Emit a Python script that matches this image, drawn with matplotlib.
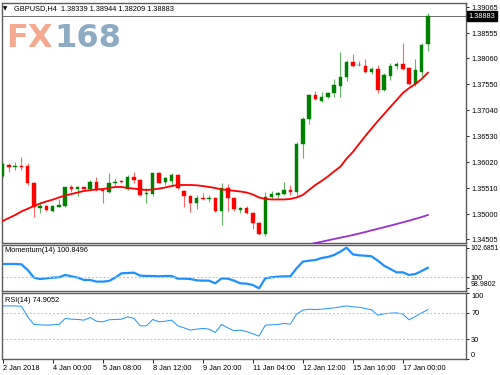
import matplotlib.pyplot as plt
import matplotlib.transforms as mtransforms
import numpy as np

plt.rcParams['font.family'] = ['Liberation Sans', 'DejaVu Sans']
plt.rcParams['font.size'] = 5.3

# GBPUSD H4, 2 Jan 2018 16:00 .. 17 Jan 2018 16:00
symbol = 'GBPUSD'
timeframe = 'H4'

opens = [1.35748, 1.35963, 1.35930, 1.35950, 1.35944, 1.35616, 1.35125, 1.35153, 1.35066, 1.35145,
         1.35159, 1.35526, 1.35492, 1.35526, 1.35486, 1.35636, 1.35473, 1.35439, 1.35604, 1.35649,
         1.35486, 1.35734, 1.35669, 1.35394, 1.35394, 1.35801, 1.35624, 1.35655, 1.35767, 1.35459,
         1.35361, 1.35223, 1.35322, 1.35290, 1.35322, 1.35061, 1.35506, 1.35322, 1.35080, 1.35113,
         1.35027, 1.34831, 1.34609, 1.35341, 1.35375, 1.35388, 1.35473, 1.35439, 1.36376, 1.36866,
         1.37338, 1.37226, 1.37292, 1.37371, 1.37520, 1.37697, 1.37991, 1.37926, 1.37913, 1.37795,
         1.37857, 1.37436, 1.37716, 1.37913, 1.37940, 1.37862, 1.37554, 1.37789, 1.38339]
highs = [1.36003, 1.35997, 1.36028, 1.36115, 1.35997, 1.35636, 1.35243, 1.35178, 1.35178, 1.35296,
         1.35538, 1.35571, 1.35551, 1.35538, 1.35669, 1.35734, 1.35486, 1.35801, 1.35702, 1.35669,
         1.35767, 1.35832, 1.35683, 1.35506, 1.35812, 1.35820, 1.35734, 1.35812, 1.35781, 1.35473,
         1.35375, 1.35375, 1.35420, 1.35375, 1.35341, 1.35604, 1.35591, 1.35341, 1.35145, 1.35159,
         1.35047, 1.34850, 1.35439, 1.35459, 1.35439, 1.35636, 1.35571, 1.36421, 1.36912, 1.37357,
         1.37422, 1.37391, 1.37402, 1.37652, 1.38176, 1.38025, 1.38137, 1.38005, 1.38038, 1.37893,
         1.37926, 1.37764, 1.37960, 1.37979, 1.38352, 1.37887, 1.38044, 1.38364, 1.38944]
lows = [1.35728, 1.35832, 1.35865, 1.35865, 1.35571, 1.34937, 1.35015, 1.35061, 1.35035, 1.35133,
        1.35145, 1.35439, 1.35355, 1.35486, 1.35473, 1.35453, 1.35212, 1.35408, 1.35571, 1.35616,
        1.35473, 1.35616, 1.35355, 1.35212, 1.35355, 1.35604, 1.35571, 1.35571, 1.35486, 1.35145,
        1.35047, 1.35094, 1.35276, 1.35243, 1.35047, 1.34786, 1.35066, 1.35061, 1.35027, 1.34996,
        1.34701, 1.34589, 1.34570, 1.35310, 1.35310, 1.35375, 1.35375, 1.35355, 1.36095, 1.36762,
        1.37239, 1.37206, 1.37273, 1.37304, 1.37292, 1.37618, 1.37893, 1.37907, 1.37775, 1.37744,
        1.37383, 1.37422, 1.37632, 1.37857, 1.37828, 1.37534, 1.37520, 1.37697, 1.38209]
closes = [1.35977, 1.35930, 1.35950, 1.35930, 1.35604, 1.35133, 1.35159, 1.35080, 1.35159, 1.35184,
          1.35526, 1.35492, 1.35526, 1.35492, 1.35636, 1.35473, 1.35447, 1.35604, 1.35636, 1.35624,
          1.35734, 1.35669, 1.35375, 1.35420, 1.35801, 1.35616, 1.35702, 1.35767, 1.35506, 1.35355,
          1.35223, 1.35322, 1.35290, 1.35310, 1.35061, 1.35506, 1.35322, 1.35094, 1.35113, 1.35015,
          1.34831, 1.34609, 1.35341, 1.35394, 1.35408, 1.35473, 1.35439, 1.36376, 1.36866, 1.37338,
          1.37259, 1.37292, 1.37371, 1.37534, 1.37697, 1.37991, 1.37907, 1.37926, 1.37795, 1.37857,
          1.37436, 1.37730, 1.37913, 1.37946, 1.37842, 1.37554, 1.37828, 1.38319, 1.38883]

# red moving average
ma_fast = [1.34864, 1.34923, 1.34982, 1.35051, 1.35105, 1.35159, 1.35208, 1.35248, 1.35283, 1.35326,
           1.35366, 1.35394, 1.35424, 1.35453, 1.35469, 1.35483, 1.35492, 1.35512, 1.35532, 1.35532,
           1.35512, 1.35500, 1.35483, 1.35473, 1.35483, 1.35500, 1.35522, 1.35551, 1.35571, 1.35571,
           1.35571, 1.35565, 1.35551, 1.35532, 1.35512, 1.35483, 1.35473, 1.35457, 1.35443, 1.35424,
           1.35384, 1.35326, 1.35296, 1.35287, 1.35287, 1.35287, 1.35296, 1.35326, 1.35375, 1.35473,
           1.35571, 1.35649, 1.35738, 1.35836, 1.35930, 1.36089, 1.36219, 1.36376, 1.36533, 1.36680,
           1.36827, 1.36965, 1.37102, 1.37239, 1.37377, 1.37474, 1.37554, 1.37652, 1.37775]
# purple moving average, only its last bars are inside the price range
ma_slow_start = 49
ma_slow = [1.34403, 1.34432, 1.34457, 1.34483, 1.34511, 1.34536, 1.34562, 1.34589, 1.34618, 1.34647,
           1.34681, 1.34710, 1.34742, 1.34773, 1.34805, 1.34838, 1.34871, 1.34906, 1.34941, 1.34982]

momentum = [101.197, 101.197, 101.197, 101.167, 100.650, 99.952, 99.831, 99.891, 99.952, 99.983,
            100.195, 100.074, 99.952, 99.740, 99.740, 99.588, 99.588, 99.648, 99.952, 100.347,
            100.377, 100.408, 100.134, 100.104, 100.104, 100.074, 100.104, 100.104, 99.861, 99.861,
            99.831, 99.709, 99.679, 99.679, 99.436, 99.891, 99.861, 99.679, 99.436, 99.405,
            99.284, 98.9802, 99.891, 99.983, 100.043, 100.074, 100.074, 100.802, 101.410, 101.501,
            101.562, 101.744, 101.835, 102.017, 102.321, 102.6851, 102.078, 101.987, 101.956, 101.896,
            101.501, 101.045, 100.742, 100.438, 100.438, 100.195, 100.286, 100.559, 100.8496]

rsi = [80.6, 80.6, 80.6, 80.1, 63.9, 52.3, 51.8, 51.3, 51.8, 52.3,
       61.4, 60.4, 59.9, 58.9, 62.9, 57.3, 56.3, 59.4, 59.9, 60.4,
       63.9, 61.4, 50.3, 50.3, 59.9, 56.3, 57.3, 58.9, 50.3, 47.2,
       43.7, 45.2, 46.2, 45.2, 40.1, 52.3, 47.2, 42.7, 43.7, 41.6,
       38.1, 34.6, 51.3, 51.8, 52.3, 53.8, 52.8, 68.0, 74.1, 75.6,
       75.1, 75.6, 76.6, 77.6, 79.1, 80.6, 79.1, 78.6, 76.6, 74.6,
       66.5, 68.5, 69.5, 70.0, 68.0, 59.4, 64.4, 70.0, 74.9052]

price_ticks = [1.34505, 1.35000, 1.35510, 1.36020, 1.36530, 1.37040, 1.37550, 1.38060, 1.38555, 1.39065]
mom_ticks = [98.9802, 100, 102.6851]
rsi_ticks = [0, 30, 70, 100]
time_labels = ['2 Jan 2018', '4 Jan 00:00', '5 Jan 08:00', '8 Jan 12:00', '9 Jan 20:00',
               '11 Jan 04:00', '12 Jan 12:00', '15 Jan 16:00', '17 Jan 00:00']
time_label_bars = [0, 8, 16, 24, 32, 40, 48, 56, 64]

W, H = 500, 375
fig = plt.figure(figsize=(5, 3.75), dpi=100)


def box(top, bottom, left=2, right=466):
    # pixel rectangle -> figure fraction
    return [left / W, 1 - bottom / H, (right - left) / W, (bottom - top) / H]


ax = fig.add_axes(box(3, 243))
ax_mom = fig.add_axes(box(245, 290.5))
ax_rsi = fig.add_axes(box(292.5, 358.8))

x = np.arange(len(closes))
for a in (ax, ax_mom, ax_rsi):
    a.set_facecolor('white')
    a.set_xlim(-0.11, 74.1)
    for s in a.spines.values():
        s.set_color('#5c5c5c')
        s.set_linewidth(1.0)
    a.yaxis.tick_right()
    a.tick_params(axis='y', length=2.5, width=0.6, pad=1.2, colors='black')
    a.set_xticks([])

# candles
o, h, l, c = map(np.array, (opens, highs, lows, closes))
colors = np.where(c > o, '#008000', np.where(c < o, '#ff0000', '#404040'))
ax.vlines(x, l, h, colors=colors, lw=0.8, alpha=0.6, zorder=2)
ax.bar(x, np.maximum(np.abs(c - o), 0.00004), bottom=np.minimum(o, c), width=0.56,
       color=colors, edgecolor=colors, lw=0.3, zorder=3)

ax.plot(x, ma_fast, color='#ff0000', lw=1.3, zorder=4)
ax.plot(x[ma_slow_start:], ma_slow, color='#9932cc', lw=1.3, zorder=4)

ax.axhline(closes[-1], color='#6e6e6e', lw=0.7, zorder=1)
ax.set_ylim(1.34432, 1.39144)
ax.set_yticks(price_ticks)
ax.set_yticklabels([f'{p:.5f}' for p in price_ticks])
trans = mtransforms.blended_transform_factory(ax.transAxes, ax.transData)
ax.text(1.006, closes[-1], f'{closes[-1]:.5f}', transform=trans, color='white', va='center',
        ha='left', bbox=dict(boxstyle='square,pad=0.22', fc='black', ec='black'))

# momentum window
ax_mom.plot(x, momentum, color='#1e90ff', lw=1.6)
ax_mom.axhline(100, color='#c0c0c0', lw=0.7, ls=(0, (2, 2)))
ax_mom.set_ylim(98.78, 102.93)
ax_mom.set_yticks(mom_ticks)
ax_mom.set_yticklabels(['98.9802', '100', '102.6851'])
ax_mom.tick_params(axis='y', pad=0.8)
ax_mom.get_yticklabels()[0].set_va('bottom')
ax_mom.get_yticklabels()[-1].set_fontsize(4.9)
ax_mom.get_yticklabels()[0].set_fontsize(5.0)

# RSI window
ax_rsi.plot(x, rsi, color='#1e90ff', lw=0.7)
for lev in (70, 30):
    ax_rsi.axhline(lev, color='#c0c0c0', lw=0.7, ls=(0, (2, 2)))
ax_rsi.set_ylim(0, 101)
ax_rsi.set_yticks(rsi_ticks)
ax_rsi.set_yticklabels([str(t) for t in rsi_ticks])
ax_rsi.get_yticklabels()[0].set_va('bottom')
ax_rsi.get_yticklabels()[-1].set_va('top')
ax_rsi.set_xticks(time_label_bars)
ax_rsi.set_xticklabels(time_labels)
ax_rsi.tick_params(axis='x', length=3, width=0.6, pad=1.5)
for lab in ax_rsi.get_xticklabels():
    lab.set_ha('left')

# texts in the windows
fig.text(3 / W, 1 - 8.5 / H, '\u25bc', fontsize=4, family='DejaVu Sans', va='center')
fig.text(14 / W, 1 - 8.5 / H,
         f'{symbol},{timeframe}  {opens[-1]:.5f} {highs[-1]:.5f} {lows[-1]:.5f} {closes[-1]:.5f}',
         va='center')
fig.text(5 / W, 1 - 251 / H, f'Momentum(14) {momentum[-1]:.4f}', va='center')
fig.text(5 / W, 1 - 300 / H, f'RSI(14) {rsi[-1]:.4f}', va='center')

# watermark
fig.text(6 / W, 1 - 47 / H, 'FX', fontsize=23, weight='bold', family='DejaVu Sans',
         color='#f4aa90', va='baseline')
fig.text(54 / W, 1 - 47 / H, '168', fontsize=23, weight='bold', family='DejaVu Sans',
         color='#8eabc4', va='baseline')

fig.savefig('out.png', dpi=100)
